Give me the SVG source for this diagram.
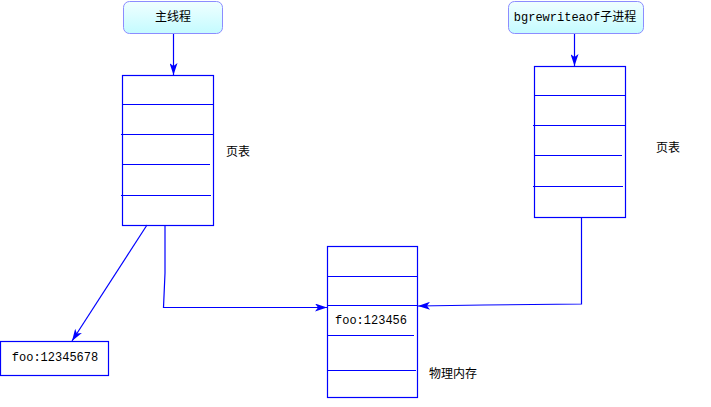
<svg xmlns="http://www.w3.org/2000/svg" width="711" height="407" viewBox="0 0 711 407">
<defs>
<linearGradient id="g" x1="0" y1="0" x2="0" y2="1">
<stop offset="0" stop-color="#f0ffff"/>
<stop offset="1" stop-color="#c4fbff"/>
</linearGradient>
<marker id="arr" viewBox="0 0 12 8" refX="12" refY="4" markerWidth="12" markerHeight="8" markerUnits="userSpaceOnUse" orient="auto">
<path d="M0,0 L12,4 L0,8 L3,4 Z" fill="#0000ff"/>
</marker>
<style>
.proc{fill:url(#g);stroke:#8c8cff;stroke-width:1}
.tbl{fill:#fff;stroke:#0000ff;stroke-width:1.2}
.ln{stroke:#0000ff;stroke-width:1.2;fill:none}
.t{font-family:"Liberation Mono","Noto Sans CJK SC",monospace;font-size:12px;fill:#000}
.c{text-anchor:middle}
</style>
</defs>
<rect width="711" height="407" fill="#fff"/>
<g id="main-thread">
<rect class="proc" x="123.5" y="1.5" width="99" height="32" rx="6"/>
<text class="t c" x="173" y="21">主线程</text>
</g>
<g id="child-process">
<rect class="proc" x="508.5" y="1.5" width="135" height="32" rx="6"/>
<text class="t c" x="575" y="21">bgrewriteaof子进程</text>
</g>
<g id="page-table-left">
<rect class="tbl" x="122.5" y="75.5" width="91" height="150"/>
<line class="ln" x1="122" y1="104.5" x2="213" y2="104.5"/>
<line class="ln" x1="121" y1="134.5" x2="213" y2="134.5"/>
<line class="ln" x1="122" y1="164.5" x2="210" y2="164.5"/>
<line class="ln" x1="121" y1="195.5" x2="211" y2="195.5"/>
<text class="t" x="226" y="156">页表</text>
</g>
<g id="page-table-right">
<rect class="tbl" x="534.5" y="66.5" width="91" height="151"/>
<line class="ln" x1="534" y1="95.5" x2="625" y2="95.5"/>
<line class="ln" x1="533" y1="125.5" x2="625" y2="125.5"/>
<line class="ln" x1="535" y1="155.5" x2="622" y2="155.5"/>
<line class="ln" x1="533" y1="186.5" x2="623" y2="186.5"/>
<text class="t" x="656" y="152">页表</text>
</g>
<g id="physical-memory">
<rect class="tbl" x="327.5" y="246.5" width="90" height="151"/>
<line class="ln" x1="327" y1="276.5" x2="417" y2="276.5"/>
<line class="ln" x1="327" y1="305.5" x2="417" y2="305.5"/>
<line class="ln" x1="327" y1="335.5" x2="414" y2="335.5"/>
<line class="ln" x1="327" y1="370.5" x2="416" y2="370.5"/>
<text class="t c" x="371" y="324">foo:123456</text>
<text class="t" x="429" y="378">物理内存</text>
</g>
<g id="foo-copy">
<rect class="tbl" x="0.5" y="341.5" width="108" height="34"/>
<text class="t c" x="55" y="361">foo:12345678</text>
</g>
<g id="connectors">
<line class="ln" x1="173.5" y1="34" x2="173.5" y2="75" marker-end="url(#arr)"/>
<line class="ln" x1="574.5" y1="34" x2="574.5" y2="66" marker-end="url(#arr)"/>
<polyline class="ln" points="165,225 165,273 163.5,307.5 327,307.5" marker-end="url(#arr)"/>
<polyline class="ln" points="581.5,217 581.5,304 484,305 418,306" marker-end="url(#arr)"/>
<line class="ln" x1="147" y1="225" x2="72" y2="341" marker-end="url(#arr)"/>
</g>
</svg>
